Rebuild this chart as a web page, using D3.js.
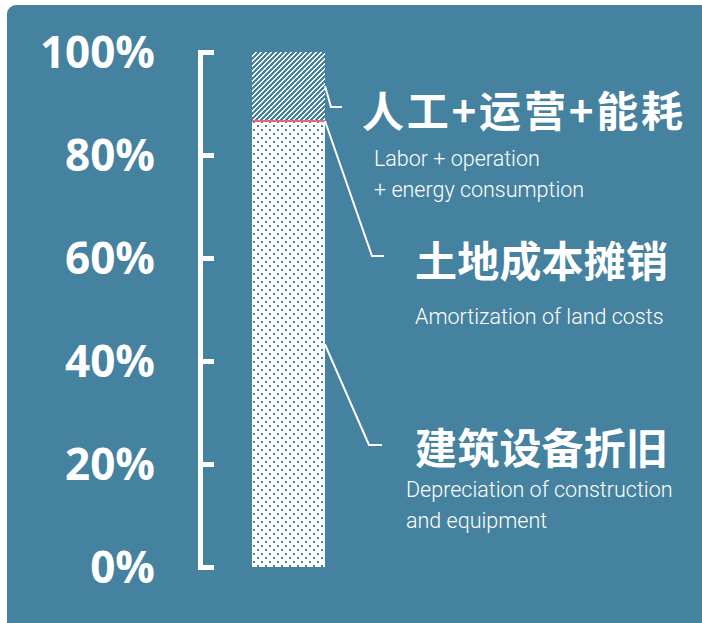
<!DOCTYPE html>
<html><head><meta charset="utf-8">
<script src="https://cdn.jsdelivr.net/npm/d3@7"></script>
<style>
html,body{margin:0;padding:0;background:#fff;}
svg{display:block;}
</style></head>
<body>
<svg id="chart" width="702" height="623"></svg>
<script>
// ---- data ----
const categories = ["建筑设备折旧", "土地成本摊销", "人工+运营+能耗"];
const subtitles = [
  ["Depreciation of construction", "and equipment"],
  ["Amortization of land costs"],
  ["Labor + operation", "+ energy consumption"]
];
const shares = [86.4, 0.4, 13.2];          // percent of total cost, bottom to top
const tickValues = [0, 20, 40, 60, 80, 100];
const tickLabels = ["0%", "20%", "40%", "60%", "80%", "100%"];
const barName = ["total"];

// ---- layout ----
const W = 702, H = 623;
const bg = "#45829f";
const svg = d3.select("#chart");
svg.append("rect").attr("x", 7).attr("y", 5).attr("width", 710).attr("height", 640)
  .attr("rx", 9).attr("fill", bg);

const y = d3.scaleLinear().domain([0, 100]).range([567, 52]);
const x = d3.scaleBand().domain(barName).range([252, 325]).padding(0);

// patterns (pixel-crisp)
const defs = svg.append("defs");
const P = 5;
const hatch = defs.append("pattern").attr("id", "hatch").attr("patternUnits", "userSpaceOnUse")
  .attr("x", 0).attr("y", 0).attr("width", P).attr("height", P);
hatch.append("rect").attr("width", P).attr("height", P).attr("fill", "#fff");
for (let r = 0; r < P; r++) {
  for (let k = 0; k < 3; k++) {
    const c = ((P - 1 - r) + k) % P;
    hatch.append("rect").attr("x", c).attr("y", r).attr("width", 1).attr("height", 1)
      .attr("fill", bg).attr("shape-rendering", "crispEdges");
  }
}

const dots = defs.append("pattern").attr("id", "dots").attr("patternUnits", "userSpaceOnUse")
  .attr("width", 8).attr("height", 8).attr("x", 252).attr("y", 0);
dots.append("rect").attr("width", 8).attr("height", 8).attr("fill", "#fff");
dots.append("rect").attr("x", 1).attr("y", 1).attr("width", 2).attr("height", 2).attr("fill", bg).attr("shape-rendering", "crispEdges");
dots.append("rect").attr("x", 5).attr("y", 5).attr("width", 2).attr("height", 2).attr("fill", bg).attr("shape-rendering", "crispEdges");

const fills = ["url(#dots)", "#e06a7a", "url(#hatch)"];

// stacked segments
let acc = 0;
const segs = shares.map((v, i) => { const s = {i, y0: acc, y1: acc + v}; acc += v; return s; });

svg.selectAll("rect.seg").data(segs).join("rect").attr("class", "seg")
  .attr("x", x("total"))
  .attr("y", d => y(d.y1))
  .attr("width", x.bandwidth())
  .attr("height", d => y(d.y0) - y(d.y1))
  .attr("fill", d => fills[d.i]);

// axis bracket
const axis = d3.axisRight(y).tickValues(tickValues).tickSize(14).tickSizeOuter(14).tickFormat("");
const ag = svg.append("g").attr("transform", "translate(200,0)").call(axis);
ag.selectAll("path,line").attr("stroke", "#fff").attr("stroke-width", 5).attr("stroke-linecap", "butt");
ag.select(".domain").attr("stroke-linejoin", "miter");

// tick labels
svg.append("g").selectAll("text").data(tickValues).join("text")
  .attr("x", 155).attr("y", d => y(d)).attr("dy", "0.36em")
  .attr("text-anchor", "end").attr("fill", "#fff")
  .attr("font-family", "'Open Sans', sans-serif").attr("font-weight", 700)
  .attr("font-size", 44)
  .text((d, i) => tickLabels[i]);

// annotations (label anchor positions)
const annot = [
  {elbow: [369, 445], end: [382, 445], tx: 415, ty: 449, tl: 253, sx: 406, sy: [489, 520]},
  {elbow: [372, 256], end: [384, 256], tx: 415, ty: 262, tl: 253, sx: 415, sy: [316]},
  {elbow: [331, 107], end: [342, 107], tx: 362, ty: 112, tl: 321, sx: 374, sy: [158, 189]}
];
const barRight = x("total") + x.bandwidth();
segs.forEach((s, i) => {
  const a = annot[i];
  const startY = y((s.y0 + s.y1) / 2);
  svg.append("polyline")
    .attr("points", [[barRight, startY], a.elbow, a.end].map(p => p.join(",")).join(" "))
    .attr("fill", "none").attr("stroke", "#fff").attr("stroke-width", 2);
  svg.append("text").attr("x", a.tx).attr("y", a.ty).attr("dy", "0.36em")
    .attr("fill", "#fff").attr("font-family", "'Noto Sans CJK SC', sans-serif")
    .attr("font-weight", 700).attr("font-size", 42)
    .attr("textLength", a.tl).attr("lengthAdjust", "spacing")
    .text(categories[i]);
  subtitles[i].forEach((t, j) => {
    svg.append("text").attr("x", a.sx).attr("y", a.sy[j]).attr("dy", "0.36em")
      .attr("fill", "#fff").attr("font-family", "Roboto, sans-serif")
      .attr("font-weight", 300).attr("font-size", 21.5)
      .text(t);
  });
});
</script>
</body></html>
